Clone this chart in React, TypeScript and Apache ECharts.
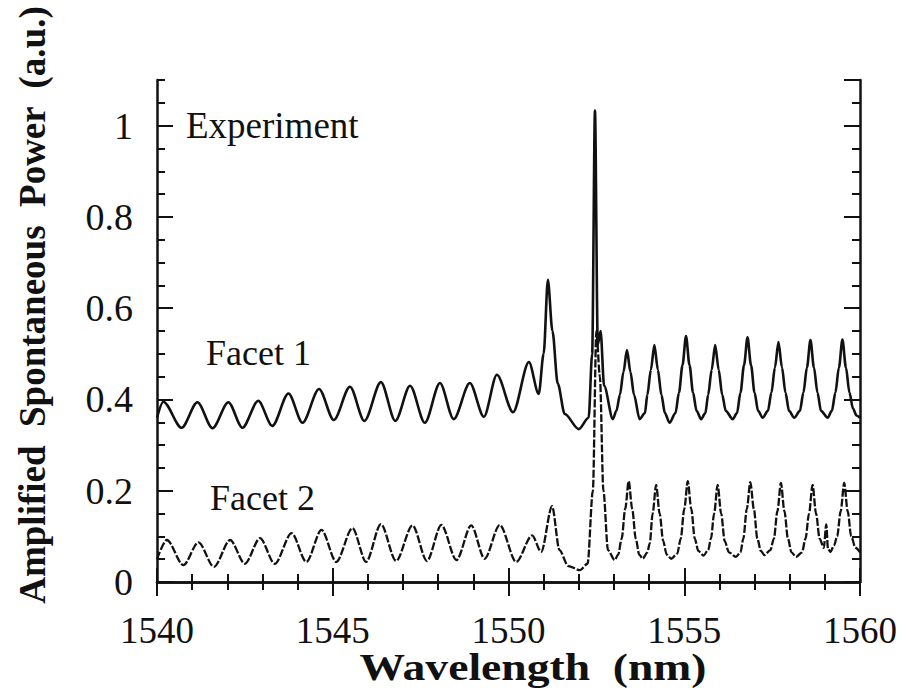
import React, { useEffect, useRef } from "react";
import * as echarts from "echarts";

const xRange = [1540, 1560];
const yRange = [0, 1.1];

const facet1: [number, number][] = [
  [1540.0, 0.36], [1540.18, 0.395], [1540.7, 0.338], [1541.15, 0.394], [1541.58, 0.337],
  [1542.03, 0.394], [1542.43, 0.338], [1542.88, 0.397], [1543.28, 0.342], [1543.74, 0.413],
  [1544.14, 0.349], [1544.61, 0.423], [1545.03, 0.355], [1545.49, 0.428], [1545.9, 0.353],
  [1546.37, 0.438], [1546.78, 0.353], [1547.2, 0.43], [1547.62, 0.349], [1548.05, 0.436],
  [1548.44, 0.357], [1548.9, 0.436], [1549.3, 0.362], [1549.67, 0.454], [1550.13, 0.372],
  [1550.58, 0.482], [1550.86, 0.412], [1551.0, 0.5], [1551.12, 0.662], [1551.25, 0.55],
  [1551.4, 0.435], [1551.6, 0.368], [1552.0, 0.335], [1552.28, 0.36], [1552.38, 0.5],
  [1552.46, 1.033], [1552.54, 0.52], [1552.62, 0.55], [1552.72, 0.43], [1552.97, 0.357],
  [1553.07, 0.375], [1553.17, 0.41], [1553.27, 0.46], [1553.37, 0.508], [1553.47, 0.46],
  [1553.57, 0.41], [1553.73, 0.357],
  [1553.88, 0.37], [1553.95, 0.41], [1554.05, 0.465], [1554.15, 0.519], [1554.25, 0.465],
  [1554.35, 0.41], [1554.45, 0.37], [1554.58, 0.349],
  [1554.75, 0.37], [1554.85, 0.415], [1554.95, 0.475], [1555.05, 0.539], [1555.15, 0.475],
  [1555.25, 0.415], [1555.35, 0.375], [1555.48, 0.357],
  [1555.6, 0.37], [1555.68, 0.41], [1555.78, 0.465], [1555.88, 0.519], [1555.98, 0.465],
  [1556.08, 0.41], [1556.18, 0.375], [1556.38, 0.357],
  [1556.5, 0.37], [1556.6, 0.415], [1556.7, 0.475], [1556.8, 0.536], [1556.9, 0.475],
  [1557.0, 0.415], [1557.1, 0.375], [1557.23, 0.36],
  [1557.38, 0.375], [1557.48, 0.415], [1557.58, 0.47], [1557.68, 0.526], [1557.78, 0.47],
  [1557.88, 0.415], [1557.98, 0.375], [1558.13, 0.36],
  [1558.29, 0.375], [1558.39, 0.415], [1558.49, 0.47], [1558.59, 0.53], [1558.69, 0.47],
  [1558.79, 0.415], [1558.89, 0.375], [1559.08, 0.36],
  [1559.2, 0.375], [1559.3, 0.415], [1559.4, 0.47], [1559.5, 0.531], [1559.6, 0.47],
  [1559.7, 0.415], [1559.8, 0.38], [1559.9, 0.365], [1560.0, 0.36],
];

const facet2: [number, number][] = [
  [1540.0, 0.05], [1540.28, 0.092], [1540.75, 0.037], [1541.18, 0.087], [1541.62, 0.033],
  [1542.08, 0.092], [1542.5, 0.04], [1542.93, 0.096], [1543.35, 0.04], [1543.83, 0.107],
  [1544.25, 0.044], [1544.68, 0.114], [1545.1, 0.044], [1545.56, 0.118], [1545.95, 0.044],
  [1546.37, 0.127], [1546.8, 0.046], [1547.27, 0.124], [1547.68, 0.046], [1548.09, 0.125],
  [1548.52, 0.048], [1548.94, 0.124], [1549.32, 0.051], [1549.75, 0.125], [1550.22, 0.044],
  [1550.67, 0.102], [1550.93, 0.066], [1551.24, 0.166], [1551.45, 0.07], [1551.7, 0.035],
  [1552.03, 0.026], [1552.25, 0.04], [1552.4, 0.2], [1552.5, 0.55], [1552.6, 0.45],
  [1552.7, 0.2], [1552.83, 0.07], [1553.02, 0.048],
  [1553.12, 0.06], [1553.22, 0.095], [1553.32, 0.16], [1553.42, 0.221], [1553.52, 0.16],
  [1553.62, 0.095], [1553.72, 0.06], [1553.82, 0.051],
  [1553.95, 0.065], [1554.02, 0.085], [1554.1, 0.15], [1554.2, 0.213], [1554.3, 0.15],
  [1554.4, 0.09], [1554.5, 0.06], [1554.63, 0.051],
  [1554.8, 0.062], [1554.9, 0.095], [1555.0, 0.16], [1555.1, 0.221], [1555.2, 0.16],
  [1555.3, 0.095], [1555.4, 0.068], [1555.55, 0.058],
  [1555.68, 0.07], [1555.76, 0.095], [1555.85, 0.15], [1555.95, 0.213], [1556.05, 0.15],
  [1556.15, 0.09], [1556.27, 0.065], [1556.47, 0.055],
  [1556.6, 0.065], [1556.68, 0.095], [1556.78, 0.16], [1556.88, 0.219], [1556.98, 0.16],
  [1557.08, 0.095], [1557.18, 0.068], [1557.28, 0.059],
  [1557.45, 0.07], [1557.55, 0.095], [1557.65, 0.155], [1557.75, 0.217], [1557.85, 0.155],
  [1557.95, 0.095], [1558.05, 0.065], [1558.18, 0.055],
  [1558.35, 0.065], [1558.45, 0.095], [1558.55, 0.15], [1558.65, 0.213], [1558.75, 0.15],
  [1558.85, 0.095], [1558.97, 0.075], [1559.04, 0.126], [1559.09, 0.072], [1559.16, 0.066],
  [1559.26, 0.08], [1559.35, 0.1], [1559.45, 0.155], [1559.55, 0.217], [1559.65, 0.155],
  [1559.75, 0.1], [1559.87, 0.075], [1560.0, 0.065],
];

const xTitle = "Wavelength  (nm)";
const yTitle = "Amplified  Spontaneous  Power  (a.u.)";
const annotations = ["Experiment", "Facet 1", "Facet 2"];

const FONT = "'Liberation Serif', 'Times New Roman', serif";
const INK = "#111";

export default function App() {
  const ref = useRef<HTMLDivElement>(null);
  useEffect(() => {
    if (!ref.current) return;
    const chart = echarts.init(ref.current, undefined, { renderer: "svg" });
    const axisLine = { show: true, lineStyle: { color: INK, width: 2.5 } };
    const noLine = { show: false };
    const tick = (len: number) => ({ show: true, inside: true, length: len, lineStyle: { color: INK, width: 2 } });
    const xBase = { type: "value", min: xRange[0], max: xRange[1], splitLine: { show: false } };
    const yBase = { type: "value", min: yRange[0], max: yRange[1], splitLine: { show: false } };
    chart.setOption({
      animation: false,
      backgroundColor: "#fff",
      grid: { left: 157, right: 46, top: 80, bottom: 108 },
      xAxis: [
        {
          ...xBase, position: "bottom", interval: 5, axisLine, axisTick: tick(14),
          axisLabel: {
            show: true, margin: 30, fontSize: 37, fontFamily: FONT, color: INK,
            formatter: (v: number) => String(v),
          },
        },
        { ...xBase, position: "bottom", interval: 1, axisLine: noLine, axisTick: tick(8), axisLabel: { show: false } },
        { ...xBase, position: "top", interval: 5, axisLine, axisTick: tick(14), axisLabel: { show: false } },
        { ...xBase, position: "top", interval: 1, axisLine: noLine, axisTick: tick(8), axisLabel: { show: false } },
      ],
      yAxis: [
        {
          ...yBase, position: "left", interval: 0.2, axisLine, axisTick: tick(16),
          axisLabel: {
            show: true, margin: 24, fontSize: 38, fontFamily: FONT, color: INK, showMaxLabel: false,
            formatter: (v: number) => String(Math.round(v * 10) / 10),
          },
        },
        { ...yBase, position: "left", interval: 0.05, axisLine: noLine, axisTick: tick(8), axisLabel: { show: false } },
        { ...yBase, position: "right", interval: 0.2, axisLine, axisTick: tick(16), axisLabel: { show: false } },
        { ...yBase, position: "right", interval: 0.05, axisLine: noLine, axisTick: tick(8), axisLabel: { show: false } },
      ],
      series: [
        {
          name: "Facet 1", type: "line", data: facet1, showSymbol: false, smooth: 0.3,
          smoothMonotone: "x", xAxisIndex: 0, yAxisIndex: 0,
          lineStyle: { color: INK, width: 2.6 },
        },
        {
          name: "Facet 2", type: "line", data: facet2, showSymbol: false, smooth: 0.3,
          smoothMonotone: "x", xAxisIndex: 0, yAxisIndex: 0,
          lineStyle: { color: INK, width: 2.3, type: [8, 2] },
        },
      ],
      graphic: [
        {
          type: "text", left: 186, top: 107,
          style: { text: annotations[0], font: `37px ${FONT}`, fill: INK },
        },
        {
          type: "text", left: 206, top: 335,
          style: { text: annotations[1], font: `36px ${FONT}`, fill: INK },
        },
        {
          type: "text", left: 210, top: 480,
          style: { text: annotations[2], font: `36px ${FONT}`, fill: INK },
        },
        {
          type: "text", x: 533, y: 667, scaleX: 1.2,
          style: { text: xTitle, font: `bold 38px ${FONT}`, fill: INK, align: "center", verticalAlign: "middle" },
        },
        {
          type: "text", x: 32, y: 305, rotation: Math.PI / 2,
          style: { text: yTitle, font: `bold 37px ${FONT}`, fill: INK, align: "center", verticalAlign: "middle" },
        },
      ],
    });
    return () => chart.dispose();
  }, []);
  return (
    <div
      ref={ref}
      style={{ position: "absolute", left: 0, top: 0, width: 906, height: 690, background: "#fff" }}
    />
  );
}
